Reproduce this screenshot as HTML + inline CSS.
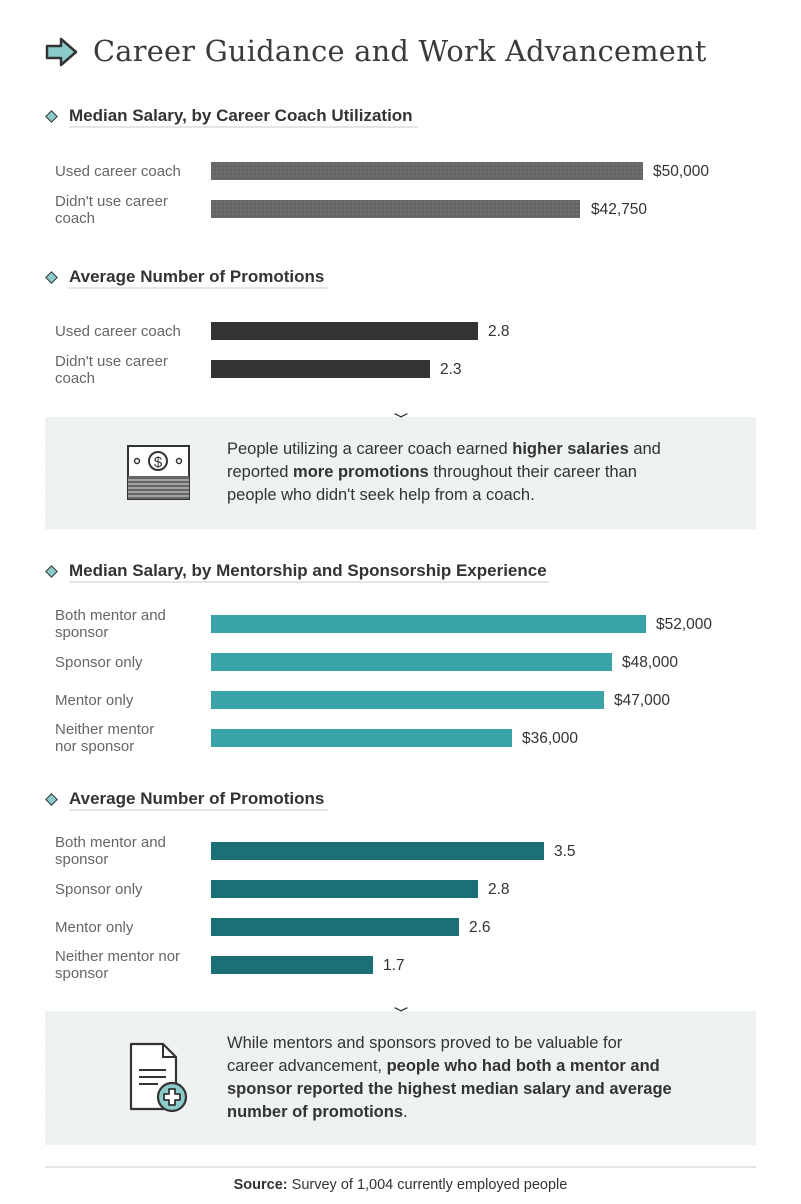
<!DOCTYPE html>
<html><head><meta charset="utf-8"><style>
*{margin:0;padding:0;box-sizing:border-box}
body{width:801px;height:1204px;background:#fff;position:relative;font-family:"Liberation Sans",sans-serif;color:#333;overflow:hidden}
.a{position:absolute;white-space:nowrap}
.title{left:93px;top:34px;font-family:"DejaVu Serif",serif;font-size:28.8px;color:#3a3a3a;letter-spacing:0.25px}
.h{left:69px;font-size:17px;font-weight:bold;color:#333}
.ul{position:absolute;left:69px;height:2px;background:#e1e6e6}
.dia{position:absolute;left:47px;width:9px;height:9px;background:#8ccbcb;border:1.5px solid #333;transform:rotate(45deg)}
.lab{left:55px;font-size:15px;color:#666;line-height:17px}
.bar{position:absolute;left:211px;height:18px}
.g{background:#666;background-image:radial-gradient(#8a8a8a 0.6px,transparent 0.8px);background-size:4px 4px}
.d{background:#333}
.t{background:#39a3a8}
.dt{background:#1c6f74}
.v{font-size:15.5px;color:#333}
.box{position:absolute;left:45px;width:711px;background:#eff2f3;background-image:radial-gradient(#e2e6e7 0.6px,transparent 0.8px);background-size:6px 6px}
.bt{left:227px;font-size:16.5px;color:#333;line-height:23px}
.chev{position:absolute;width:10px;height:10px;border-right:2px solid #333;border-bottom:2px solid #333;transform:scaleY(0.5) rotate(45deg)}
</style></head><body>
<svg class="a" style="left:45px;top:37px" width="34" height="30" viewBox="0 0 34 30"><path d="M2 9 H16 V2 L31 15 L16 28 V21 H2 Z" fill="#8ccbcb" stroke="#333" stroke-width="2.5" stroke-linejoin="round"/></svg>
<div class="a title">Career Guidance and Work Advancement</div>

<div class="dia" style="top:112px"></div>
<div class="a h" style="top:106px">Median Salary, by Career Coach Utilization</div>
<div class="ul" style="top:126px;width:349px"></div>
<div class="a lab" style="top:163px">Used career coach</div>
<div class="a lab" style="top:193px">Didn't use career<br>coach</div>
<div class="bar g" style="top:162px;width:432px"></div>
<div class="bar g" style="top:200px;width:369px"></div>
<div class="a v" style="left:653px;top:163px">$50,000</div>
<div class="a v" style="left:591px;top:201px">$42,750</div>

<div class="dia" style="top:273px"></div>
<div class="a h" style="top:267px">Average Number of Promotions</div>
<div class="ul" style="top:287px;width:259px"></div>
<div class="a lab" style="top:323px">Used career coach</div>
<div class="a lab" style="top:353px">Didn't use career<br>coach</div>
<div class="bar d" style="top:322px;width:267px"></div>
<div class="bar d" style="top:360px;width:219px"></div>
<div class="a v" style="left:488px;top:323px">2.8</div>
<div class="a v" style="left:440px;top:361px">2.3</div>

<div class="box" style="top:417px;height:112px"></div>
<div class="chev" style="left:396px;top:409px"></div>
<svg class="a" style="left:127px;top:445px" width="64" height="56" viewBox="0 0 64 56"><rect x="1" y="1" width="61" height="53" fill="#fff" stroke="#333" stroke-width="2"/><circle cx="31" cy="16" r="9" fill="none" stroke="#333" stroke-width="2"/><text x="31" y="22" font-size="15" text-anchor="middle" font-family="Liberation Sans" fill="#333">$</text><circle cx="10" cy="16" r="2.5" fill="none" stroke="#333" stroke-width="1.5"/><circle cx="52" cy="16" r="2.5" fill="none" stroke="#333" stroke-width="1.5"/><rect x="1" y="31" width="61" height="23" fill="#666"/><g stroke="#ddd" stroke-width="1"><line x1="1" y1="35" x2="62" y2="35"/><line x1="1" y1="39" x2="62" y2="39"/><line x1="1" y1="43" x2="62" y2="43"/><line x1="1" y1="47" x2="62" y2="47"/><line x1="1" y1="51" x2="62" y2="51"/></g></svg>
<div class="a bt" style="top:438px">People utilizing a career coach earned <b>higher salaries</b> and<br>reported <b>more promotions</b> throughout their career than<br>people who didn't seek help from a coach.</div>

<div class="dia" style="top:567px"></div>
<div class="a h" style="top:561px">Median Salary, by Mentorship and Sponsorship Experience</div>
<div class="ul" style="top:581px;width:480px"></div>
<div class="a lab" style="top:607px">Both mentor and<br>sponsor</div>
<div class="a lab" style="top:654px">Sponsor only</div>
<div class="a lab" style="top:692px">Mentor only</div>
<div class="a lab" style="top:721px">Neither mentor<br>nor sponsor</div>
<div class="bar t" style="top:615px;width:435px"></div>
<div class="bar t" style="top:653px;width:401px"></div>
<div class="bar t" style="top:691px;width:393px"></div>
<div class="bar t" style="top:729px;width:301px"></div>
<div class="a v" style="left:656px;top:616px">$52,000</div>
<div class="a v" style="left:622px;top:654px">$48,000</div>
<div class="a v" style="left:614px;top:692px">$47,000</div>
<div class="a v" style="left:522px;top:730px">$36,000</div>

<div class="dia" style="top:795px"></div>
<div class="a h" style="top:789px">Average Number of Promotions</div>
<div class="ul" style="top:809px;width:259px"></div>
<div class="a lab" style="top:834px">Both mentor and<br>sponsor</div>
<div class="a lab" style="top:881px">Sponsor only</div>
<div class="a lab" style="top:919px">Mentor only</div>
<div class="a lab" style="top:948px">Neither mentor nor<br>sponsor</div>
<div class="bar dt" style="top:842px;width:333px"></div>
<div class="bar dt" style="top:880px;width:267px"></div>
<div class="bar dt" style="top:918px;width:248px"></div>
<div class="bar dt" style="top:956px;width:162px"></div>
<div class="a v" style="left:554px;top:843px">3.5</div>
<div class="a v" style="left:488px;top:881px">2.8</div>
<div class="a v" style="left:469px;top:919px">2.6</div>
<div class="a v" style="left:383px;top:957px">1.7</div>

<div class="box" style="top:1011px;height:134px"></div>
<div class="chev" style="left:396px;top:1003px"></div>
<svg class="a" style="left:128px;top:1040px" width="62" height="76" viewBox="0 0 62 76"><path d="M3 4 H35 L48 17 V69 H3 Z" fill="#fff" stroke="#333" stroke-width="2.2" stroke-linejoin="round"/><path d="M35 4 V17 H48" fill="none" stroke="#333" stroke-width="2"/><g stroke="#333" stroke-width="2"><line x1="11" y1="30" x2="38" y2="30"/><line x1="11" y1="37" x2="38" y2="37"/><line x1="11" y1="44" x2="30" y2="44"/></g><circle cx="44" cy="57" r="14" fill="#8ccbcb" stroke="#333" stroke-width="2.2"/><path d="M41 49 H47 V54 H52 V60 H47 V65 H41 V60 H36 V54 H41 Z" fill="#fff" stroke="#333" stroke-width="1.8" stroke-linejoin="round"/></svg>
<div class="a bt" style="top:1032px">While mentors and sponsors proved to be valuable for<br>career advancement, <b>people who had both a mentor and<br>sponsor reported the highest median salary and average<br>number of promotions</b>.</div>

<div style="position:absolute;left:45px;top:1166px;width:711px;height:2px;background:#e1e6e6"></div>
<div class="a" style="left:0;width:801px;text-align:center;top:1177px;font-size:14.5px;color:#333"><b>Source:</b> Survey of 1,004 currently employed people</div>
</body></html>
